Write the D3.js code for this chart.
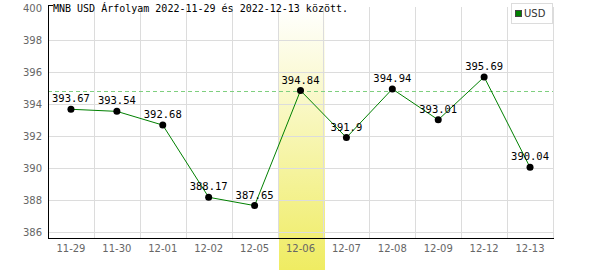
<!DOCTYPE html>
<html>
<head>
<meta charset="utf-8">
<script src="https://cdn.jsdelivr.net/npm/d3@7"></script>
<style>
  body { margin: 0; background: #fff; }
  svg { display: block; }
</style>
</head>
<body>
<svg id="chart" width="600" height="270"></svg>
<script>
var dates = ['11-29', '11-30', '12-01', '12-02', '12-05', '12-06', '12-07', '12-08', '12-09', '12-12', '12-13']
var rates = [393.67, 393.54, 392.68, 388.17, 387.65, 394.84, 391.9, 394.94, 393.01, 395.69, 390.04]
var yTicks = [386, 388, 390, 392, 394, 396, 398, 400]
var highlight = '12-06'
var refValue = 394.84
var title = 'MNB USD Árfolyam 2022-11-29 és 2022-12-13 között.'

var svg = d3.select('#chart')
// note: "top" is taken by window.top, so use other names
var plotLeft = 48, plotRight = 553, plotTop = 8, plotBottom = 238

var x = d3.scaleBand()
    .domain(dates)
    .range([plotLeft, plotRight])
    .padding(0)

var y = d3.scaleLinear()
    .domain([385.625, 400])
    .range([plotBottom, plotTop])

// highlighted day
var grad = svg.append('defs').append('linearGradient')
    .attr('id', 'hl').attr('x1', 0).attr('y1', 0).attr('x2', 0).attr('y2', 1)
grad.append('stop').attr('offset', '0%').attr('stop-color', '#ffffff')
grad.append('stop').attr('offset', '100%').attr('stop-color', '#efec62')

svg.append('rect')
    .attr('x', Math.round(x(highlight)) + 1)
    .attr('y', plotTop - 1)
    .attr('width', Math.round(x.bandwidth()))
    .attr('height', 270 - plotTop + 1)
    .attr('fill', 'url(#hl)')

// grid
svg.append('g').selectAll('line')
    .data(yTicks.filter(function(d) { return d < 400 }))
    .enter().append('line')
    .attr('x1', plotLeft).attr('x2', plotRight)
    .attr('y1', function(d) { return Math.round(y(d)) + 0.5 })
    .attr('y2', function(d) { return Math.round(y(d)) + 0.5 })
    .attr('stroke', '#dcdcdc')

svg.append('g').selectAll('line')
    .data(dates)
    .enter().append('line')
    .attr('x1', function(d) { return Math.round(x(d) + x.bandwidth()) + 0.5 })
    .attr('x2', function(d) { return Math.round(x(d) + x.bandwidth()) + 0.5 })
    .attr('y1', plotTop - 1).attr('y2', plotBottom)
    .attr('stroke', '#dcdcdc')

// reference line
svg.append('line')
    .attr('x1', plotLeft).attr('x2', plotRight)
    .attr('y1', Math.round(y(refValue)) + 0.5)
    .attr('y2', Math.round(y(refValue)) + 0.5)
    .attr('stroke', '#7fcf7f')
    .attr('stroke-dasharray', '4,3')

// axes
svg.append('line')
    .attr('x1', plotLeft + 0.5).attr('x2', plotLeft + 0.5)
    .attr('y1', 5).attr('y2', plotBottom + 1)
    .attr('stroke', '#000')
svg.append('line')
    .attr('x1', plotLeft).attr('x2', plotLeft + 5)
    .attr('y1', 5.5).attr('y2', 5.5)
    .attr('stroke', '#000')
svg.append('line')
    .attr('x1', plotLeft).attr('x2', plotRight + 1)
    .attr('y1', plotBottom + 0.5).attr('y2', plotBottom + 0.5)
    .attr('stroke', '#000')

svg.append('g').selectAll('text')
    .data(yTicks)
    .enter().append('text')
    .attr('x', 42)
    .attr('y', function(d) { return y(d) + 4 })
    .attr('text-anchor', 'end')
    .attr('font-family', 'DejaVu Sans')
    .attr('font-size', 10)
    .attr('fill', '#666')
    .text(function(d) { return d })

svg.append('g').selectAll('text')
    .data(dates)
    .enter().append('text')
    .attr('x', function(d) { return x(d) + x.bandwidth() / 2 })
    .attr('y', 252)
    .attr('text-anchor', 'middle')
    .attr('font-family', 'DejaVu Sans')
    .attr('font-size', 10)
    .attr('fill', '#666')
    .text(function(d) { return d })

// series
var line = d3.line()
    .x(function(d, i) { return x(dates[i]) + x.bandwidth() / 2 })
    .y(function(d) { return y(d) })

svg.append('path')
    .datum(rates)
    .attr('d', line)
    .attr('fill', 'none')
    .attr('stroke', '#008000')
    .attr('stroke-width', 1)

svg.append('g').selectAll('circle')
    .data(rates)
    .enter().append('circle')
    .attr('cx', function(d, i) { return x(dates[i]) + x.bandwidth() / 2 })
    .attr('cy', function(d) { return y(d) })
    .attr('r', 3.5)
    .attr('fill', '#000')

svg.append('g').selectAll('text')
    .data(rates)
    .enter().append('text')
    .attr('x', function(d, i) { return x(dates[i]) + x.bandwidth() / 2 })
    .attr('y', function(d) { return y(d) - 7 })
    .attr('text-anchor', 'middle')
    .attr('font-family', 'DejaVu Sans Mono')
    .attr('font-size', 10.5)
    .attr('fill', '#000')
    .text(function(d) { return d })

// title
svg.append('text')
    .attr('x', 53)
    .attr('y', 12)
    .attr('font-family', 'DejaVu Sans Mono')
    .attr('font-size', 10)
    .attr('fill', '#000')
    .text(title)

// legend
var lg = svg.append('g')
lg.append('rect')
    .attr('x', 511.5).attr('y', 3.5)
    .attr('width', 41).attr('height', 20)
    .attr('fill', '#fff')
    .attr('stroke', '#dcdcdc')
lg.append('rect')
    .attr('x', 515.5).attr('y', 10.5)
    .attr('width', 6).attr('height', 6)
    .attr('fill', '#008000')
    .attr('stroke', '#444')
lg.append('text')
    .attr('x', 524)
    .attr('y', 17)
    .attr('font-family', 'DejaVu Sans')
    .attr('font-size', 10)
    .attr('fill', '#333')
    .text('USD')
</script>
</body>
</html>
